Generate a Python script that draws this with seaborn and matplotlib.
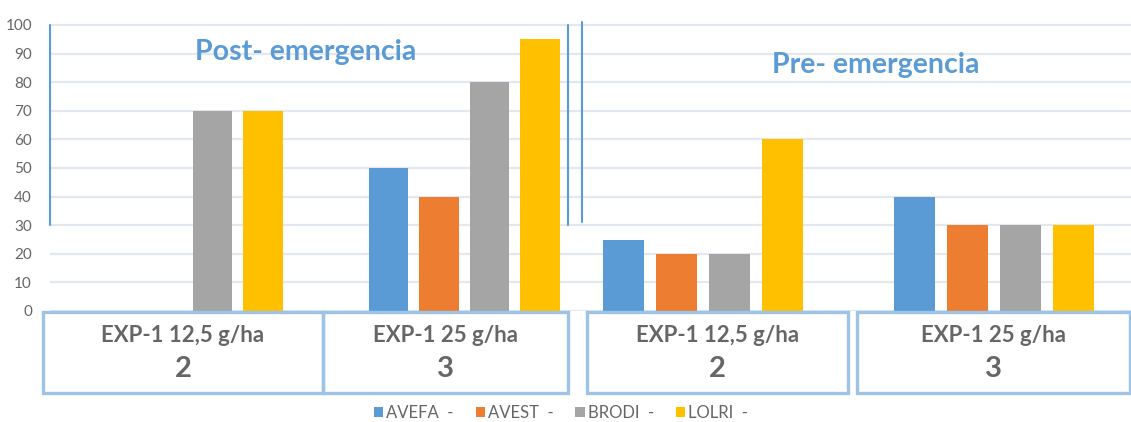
import matplotlib
matplotlib.use("Agg")
import matplotlib.pyplot as plt
from matplotlib.patches import Rectangle, Patch
from matplotlib.lines import Line2D
import seaborn as sns
import pandas as pd

# ---- data -------------------------------------------------------------
species = ["AVEFA", "AVEST", "BRODI", "LOLRI"]
dose_labels = ["EXP-1 12,5 g/ha", "EXP-1 25 g/ha"]
dose_codes = ["2", "3"]

post_12_5 = [0, 0, 70, 70]
post_25 = [50, 40, 80, 95]
pre_12_5 = [25, 20, 20, 60]
pre_25 = [40, 30, 30, 30]

panel_titles = ["Post- emergencia", "Pre- emergencia"]
y_ticks = [0, 10, 20, 30, 40, 50, 60, 70, 80, 90, 100]

colors = ["#5B9BD5", "#ED7D31", "#A5A5A5", "#FFC000"]
text_gray = "#666666"
box_blue = "#9DC3E6"
line_blue = "#5B9BD5"


def long_table(values_by_dose):
    rows = []
    for dose, vals in zip(dose_labels, values_by_dose):
        for sp, v in zip(species, vals):
            rows.append({"dose": dose, "species": sp, "value": v})
    return pd.DataFrame(rows)


post_df = long_table([post_12_5, post_25])
pre_df = long_table([pre_12_5, pre_25])

# ---- figure -----------------------------------------------------------
sns.set_theme(style="white")
plt.rcParams["font.family"] = ["Lato", "DejaVu Sans"]

W, H = 1131, 422
fig = plt.figure(figsize=(W / 100, H / 100), dpi=100)


def fx(px):
    return px / W


def fy(py):
    return 1 - py / H


y0_px, y100_px = 311, 25
px_per_unit = (y0_px - y100_px) / 100
ytop = 101
top_px = y0_px - ytop * px_per_unit

ax_post = fig.add_axes([fx(50), fy(y0_px), fx(576 - 50), (y0_px - top_px) / H])
ax_pre = fig.add_axes([fx(576), fy(y0_px), fx(1131 - 576), (y0_px - top_px) / H])

panels = [
    (ax_post, post_df, (-0.4946, 1.404)),
    (ax_pre, pre_df, (-0.4364, 1.4708)),
]

for ax, df, xl in panels:
    sns.barplot(
        data=df, x="dose", y="value", hue="species",
        hue_order=species, order=dose_labels, palette=colors,
        saturation=1, width=0.73, gap=0.22, linewidth=0, ax=ax,
        legend=False, errorbar=None,
    )
    ax.set_xlim(*xl)
    ax.set_ylim(0, ytop)
    ax.set_yticks(y_ticks)
    ax.yaxis.grid(True, color="#e3e8ee", linewidth=1.6)
    ax.set_axisbelow(True)
    ax.set_xticks([])
    ax.set_xlabel("")
    ax.set_ylabel("")
    for s in ax.spines.values():
        s.set_visible(False)
    ax.tick_params(axis="both", length=0)
    ax.patch.set_alpha(0)

ax_post.tick_params(axis="y", labelsize=11, labelcolor=text_gray, pad=13)
ax_pre.set_yticklabels([])

# panel titles
fig.text(fx(306), fy(60), panel_titles[0], ha="center", va="baseline",
         fontsize=20.5, color=line_blue, fontweight="bold")
fig.text(fx(876), fy(73), panel_titles[1], ha="center", va="baseline",
         fontsize=20.5, color=line_blue, fontweight="bold")

# thin vertical separators
for x, ya, yb in [(50, 25, 225), (568, 25, 225), (582, 22, 222)]:
    fig.add_artist(Line2D([fx(x), fx(x)], [fy(ya), fy(yb)],
                          transform=fig.transFigure, color=line_blue, lw=1.5))

# category boxes below the bars
boxes = [(43, 323), (323, 568), (587, 848), (857, 1130)]
box_text = [(dose_labels[0], dose_codes[0]), (dose_labels[1], dose_codes[1]),
            (dose_labels[0], dose_codes[0]), (dose_labels[1], dose_codes[1])]
for (xa, xb), (lab, code) in zip(boxes, box_text):
    fig.add_artist(Rectangle((fx(xa), fy(393)), fx(xb - xa), (393 - 312) / H,
                             transform=fig.transFigure, fill=False,
                             edgecolor=box_blue, lw=2.4))
    cx = (xa + xb) / 2
    fig.text(fx(cx), fy(335), lab, ha="center", va="center",
             fontsize=16, color=text_gray, fontweight="bold")
    fig.text(fx(cx), fy(369), code, ha="center", va="center",
             fontsize=21, color=text_gray, fontweight="bold")

# legend
handles = [Patch(facecolor=c, edgecolor="none") for c in colors]
fig.legend(handles, [f"{s}  -" for s in species], loc="center",
           bbox_to_anchor=(fx(561), fy(413)), ncol=4, frameon=False,
           handlelength=0.55, handleheight=0.6, handletextpad=0.2,
           columnspacing=1.3, fontsize=12, labelcolor=text_gray)

fig.savefig("out.png", dpi=100, facecolor="white")
